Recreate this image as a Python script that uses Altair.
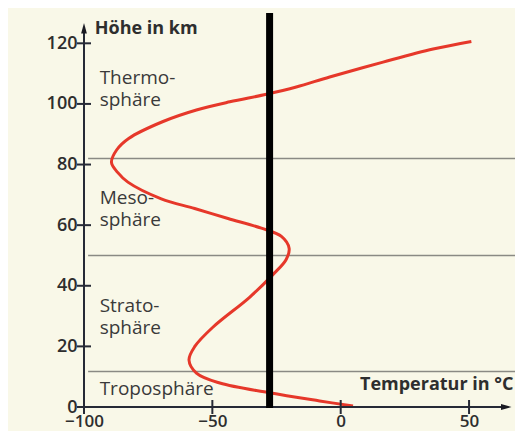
import altair as alt
import pandas as pd

# Temperature profile (°C) vs altitude (km)
temp = [4.8, -8.2, -27.7, -47.1, -56.2, -59.1, -56.9, -49.7, -35.5, -26.5, -21.3, -20.1,
        -23.1, -30.9, -43.9, -56.9, -69.9, -82.9, -86.9, -89.3, -87.3, -82.6, -69.2,
        -56.2, -43.2, -28.9, -17.3, -4.3, 16.5, 36, 50.9]
height = [0.3, 2.0, 4.7, 7.9, 11.2, 15.5, 19.9, 26.4, 36.2, 43.6, 48.6, 52.4,
          56.3, 59, 62.2, 65.5, 68.7, 74.2, 77.4, 80.7, 84.8, 88.6, 94.2,
          98.0, 100.7, 103.2, 105.6, 108.9, 113.8, 118.1, 120.6]

# Layer boundaries (km)
boundaries = [11.7, 50, 82]

# Layer names (two-line labels; h = height of the first line)
layer_names = ["Thermo-\nsphäre", "Meso-\nsphäre", "Strato-\nsphäre", "Troposphäre"]
layer_h = [108.6, 68.9, 33.2, 5.9]
layer_x = -93.9

x_ticks = [-100, -50, 0, 50]
y_ticks = [0, 20, 40, 60, 80, 100, 120]

marker_temp = -27.7  # thick black marker line

X_DOM = [-100, 67.9]
Y_DOM = [0, 130]
BG = "#f9f8e8"
INK = "#2e2e2e"
FONT = "Open Sans"

curve_df = pd.DataFrame({"T": temp, "h": height, "i": range(len(temp))})
xs = alt.Scale(domain=X_DOM, nice=False, zero=False)
ys = alt.Scale(domain=Y_DOM, nice=False, zero=False)

x_axis = alt.Axis(values=x_ticks, domain=False, ticks=False, grid=False, title=None,
                  labelFont=FONT, labelFontSize=17, labelFontWeight=600, labelColor=INK,
                  labelPadding=6, labelFlush=False)
y_axis = alt.Axis(values=y_ticks, domain=False, ticks=False, grid=False, title=None,
                  labelFont=FONT, labelFontSize=18, labelFontWeight=600, labelColor=INK,
                  labelPadding=7)

bound_df = pd.DataFrame({"h": boundaries, "x1": [-98.4] * 3, "x2": [X_DOM[1]] * 3})
bounds = alt.Chart(bound_df).mark_rule(color="#8a8a84", strokeWidth=1.5).encode(
    x=alt.X("x1:Q", scale=xs, axis=x_axis), x2="x2:Q",
    y=alt.Y("h:Q", scale=ys, axis=y_axis))

curve = alt.Chart(curve_df).mark_line(color="#e6382a", strokeWidth=3,
                                      interpolate="catmull-rom").encode(
    x=alt.X("T:Q", scale=xs), y=alt.Y("h:Q", scale=ys), order="i:Q")

marker = alt.Chart(pd.DataFrame({"T": [marker_temp], "a": [-0.3], "b": [130]})).mark_rule(
    color="black", strokeWidth=7).encode(x=alt.X("T:Q", scale=xs), y=alt.Y("a:Q", scale=ys), y2="b:Q")

yaxis_line = alt.Chart(pd.DataFrame({"x": [-100], "a": [-2.3], "b": [124]})).mark_rule(
    color="#262a36", strokeWidth=2).encode(x=alt.X("x:Q", scale=xs), y=alt.Y("a:Q", scale=ys), y2="b:Q")
xaxis_line = alt.Chart(pd.DataFrame({"y": [0], "a": [-100], "b": [63]})).mark_rule(
    color="#262a36", strokeWidth=2).encode(y=alt.Y("y:Q", scale=ys), x=alt.X("a:Q", scale=xs), x2="b:Q")

arrow_up = alt.Chart(pd.DataFrame({"x": [-100], "y": [125]})).mark_point(
    shape="M0,-1L0.55,1L-0.55,1Z", filled=True, size=110, color="#1a1a22", opacity=1).encode(
    x=alt.X("x:Q", scale=xs), y=alt.Y("y:Q", scale=ys))
arrow_right = alt.Chart(pd.DataFrame({"x": [64.5], "y": [0]})).mark_point(
    shape="M1,0L-1,0.55L-1,-0.55Z", filled=True, size=110, color="#1a1a22", opacity=1).encode(
    x=alt.X("x:Q", scale=xs), y=alt.Y("y:Q", scale=ys))

yt = alt.Chart(pd.DataFrame({"x": [-100] * len(y_ticks), "y": y_ticks})).mark_tick(
    orient="horizontal", size=14, thickness=2, color="#262a36", opacity=1).encode(
    x=alt.X("x:Q", scale=xs), y=alt.Y("y:Q", scale=ys))
xt = alt.Chart(pd.DataFrame({"x": x_ticks[1:], "y": [0] * 3})).mark_tick(
    orient="vertical", size=14, thickness=2, color="#262a36", opacity=1).encode(
    x=alt.X("x:Q", scale=xs), y=alt.Y("y:Q", scale=ys))

layer_df = pd.DataFrame({"t": layer_names, "h": layer_h, "x": [layer_x] * len(layer_names)})
layer_text = alt.Chart(layer_df).mark_text(align="left", baseline="middle", font=FONT,
                                           fontSize=19, lineBreak="\n", lineHeight=22,
                                           color="#3a3a3a").encode(
    x=alt.X("x:Q", scale=xs), y=alt.Y("h:Q", scale=ys), text="t:N")

titles_df = pd.DataFrame({"t": ["Höhe in km", "Temperatur in °C"], "x": [-95.8, 7.5], "h": [124.8, 7.2]})
titles = alt.Chart(titles_df).mark_text(align="left", baseline="middle", font=FONT,
                                        fontSize=18, fontWeight="bold", color=INK).encode(
    x=alt.X("x:Q", scale=xs), y=alt.Y("h:Q", scale=ys), text="t:N")

chart = alt.layer(bounds, curve, yaxis_line, xaxis_line, yt, xt, arrow_up, arrow_right,
                  layer_text, titles, marker).properties(
    width=431, height=394,
    autosize=alt.AutoSizeParams(type="none"),
    padding={"left": 76, "top": 5, "right": 0, "bottom": 24},
    background=BG,
).configure_view(stroke=None)

chart.save("out.html", embed_options={"renderer": "svg", "actions": False})
